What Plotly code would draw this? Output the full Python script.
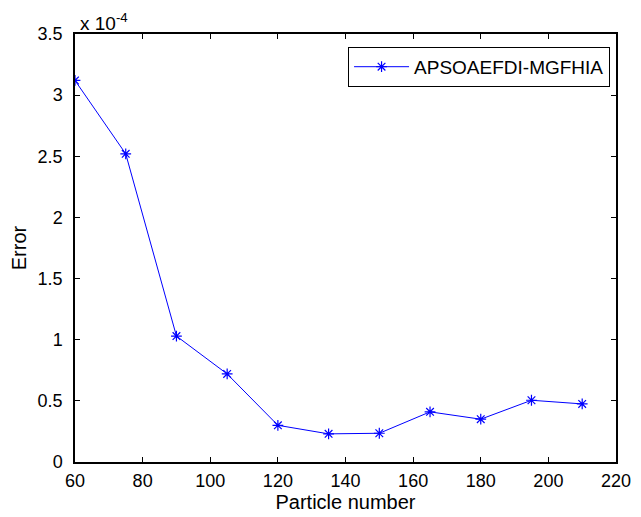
import plotly.graph_objects as go

particles = [60, 75, 90, 105, 120, 135, 150, 165, 180, 195, 210]
error_e4 = [3.12, 2.52, 1.03, 0.72, 0.30, 0.23, 0.235, 0.41, 0.35, 0.505, 0.475]
errors = [v * 1e-4 for v in error_e4]
series_name = "APSOAEFDI-MGFHIA"
x_ticks = [60, 80, 100, 120, 140, 160, 180, 200, 220]
y_tick_vals = [0, 0.5e-4, 1e-4, 1.5e-4, 2e-4, 2.5e-4, 3e-4, 3.5e-4]
y_tick_text = ["0", "0.5", "1", "1.5", "2", "2.5", "3", "3.5"]

FONT = "Liberation Sans, Arial, Helvetica, sans-serif"

fig = go.Figure()
fig.add_trace(go.Scatter(
    x=particles, y=errors, name=series_name, mode="lines+markers",
    line=dict(color="#0000ff", width=1),
    marker=dict(symbol="asterisk-open", size=9, color="#0000ff",
                line=dict(color="#0000ff", width=1.2)),
))

axis_common = dict(
    showline=True, linecolor="black", linewidth=1.5, mirror="allticks",
    ticks="inside", ticklen=5, tickcolor="black", tickwidth=1,
    showgrid=False, zeroline=False, automargin=False,
    tickfont=dict(family=FONT, size=18, color="black"),
)

fig.update_layout(
    width=641, height=517,
    margin=dict(l=75, r=25, t=34, b=55),
    paper_bgcolor="white", plot_bgcolor="white",
    font=dict(family=FONT, color="black"),
    xaxis=dict(range=[60, 220], tickvals=x_ticks, ticklabelstandoff=2,
               title=dict(text="Particle number", font=dict(family=FONT, size=20), standoff=4),
               **axis_common),
    yaxis=dict(range=[0, 3.5e-4], tickvals=y_tick_vals, ticktext=y_tick_text,
               ticklabelstandoff=7,
               title=dict(text="Error", font=dict(family=FONT, size=20), standoff=6),
               **axis_common),
    showlegend=True,
    legend=dict(x=0.989, y=0.97, xanchor="right", yanchor="top",
                bordercolor="black", borderwidth=1, bgcolor="white", itemwidth=55,
                font=dict(family=FONT, size=19, color="black")),
    annotations=[dict(text="x 10<sup>-4</sup>", xref="paper", yref="paper",
                      x=0, y=1, xanchor="left", yanchor="bottom", xshift=3, yshift=-2,
                      showarrow=False, font=dict(family=FONT, size=19, color="black"))],
)

fig.write_html("out.html")
